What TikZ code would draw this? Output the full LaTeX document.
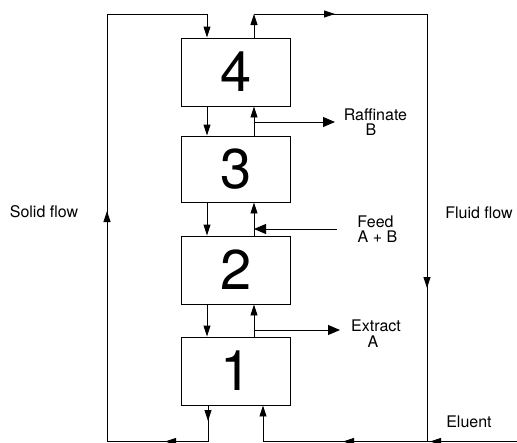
\documentclass[tikz,border=0pt]{standalone}
\usepackage{fontspec}
\setmainfont{TeX Gyre Heros}
\usetikzlibrary{arrows.meta}
\begin{document}
\begin{tikzpicture}[x=1pt,y=-1pt, line width=0.9pt,
 box/.style={draw, minimum width=109pt, minimum height=68pt, inner sep=0pt, font=\fontsize{56}{56}\selectfont},
 lbl/.style={font=\fontsize{16}{16}\selectfont, anchor=base, inner sep=0pt},
 sarr/.style={-{Triangle[length=11pt,width=7pt]}},
 barr/.style={-{Triangle[length=12pt,width=10pt]}}]
\useasboundingbox (0,0) rectangle (517,442);
\fill[white] (0,0) rectangle (517,442);
% boxes
\node[box] (b4) at (236,72) {4};
\node[box,minimum height=66pt] (b3) at (236,169) {3};
\node[box] (b2) at (236,270) {2};
\node[box] (b1) at (236,371) {1};
% coordinates
\coordinate (tl) at (107,14);
\coordinate (tm) at (207,14);
\coordinate (tu) at (254,14);
\coordinate (tr) at (427,14);
\coordinate (bl) at (107,441.5);
\coordinate (bsd) at (208,441.5);
\coordinate (bfu) at (263,441.5);
\coordinate (bfr) at (427,441.5);
\coordinate (bre) at (540,441.5);
% solid flow loop
\draw (b1.south -| bsd) -- (bsd) -- (bl) -- (tl) -- (tm);
\draw[sarr] (tm) -- (tm |- b4.north);
\draw[sarr] (107,224) -- (107,211);
\draw[sarr] (208,409) -- (208,421);
\draw[sarr] (176,441.5) -- (165,441.5);
\draw[sarr] (b4.south -| tm) -- (b3.north -| tm);
\draw[sarr] (b3.south -| tm) -- (b2.north -| tm);
\draw[sarr] (b2.south -| tm) -- (b1.north -| tm);
% fluid flow loop
\draw[sarr] (b4.north -| tu) -- (tu);
\draw (tu) -- (tr) -- (bfr);
\draw[sarr] (324,14) -- (335,14);
\draw[sarr] (427,277) -- (427,288);
\draw[sarr] (b3.north -| tu) -- (b4.south -| tu);
\draw[sarr] (b2.north -| tu) -- (b3.south -| tu);
\draw[sarr] (b1.north -| tu) -- (b2.south -| tu);
\draw (bre) -- (bfu);
\draw[sarr] (bfu) -- (b1.south -| bfu);
\draw[sarr] (441,441.5) -- (430,441.5);
\draw[sarr] (354,441.5) -- (343,441.5);
% side streams
\coordinate (rf) at (254,122);
\coordinate (fd) at (254,229);
\coordinate (ex) at (254,330);
\draw[barr] (rf) -- (335,122);
\draw[barr] (337,229) -- (fd);
\draw[barr] (ex) -- (340,330);
% labels
\node[lbl] (lr1) at (375.5,120) {Raffinate};
\node[lbl] (lr2) at (371,135) {B};
\node[lbl] (lf1) at (375.5,227) {Feed};
\node[lbl] (lf2) at (377.5,242) {A + B};
\node[lbl] (le1) at (376,331) {Extract};
\node[lbl] (le2) at (373,347) {A};
\node[lbl] (lel) at (469,427) {Eluent};
\node[lbl] (lsf) at (44,217) {Solid flow};
\node[lbl] (lff) at (479,218) {Fluid flow};
\end{tikzpicture}
\end{document}
